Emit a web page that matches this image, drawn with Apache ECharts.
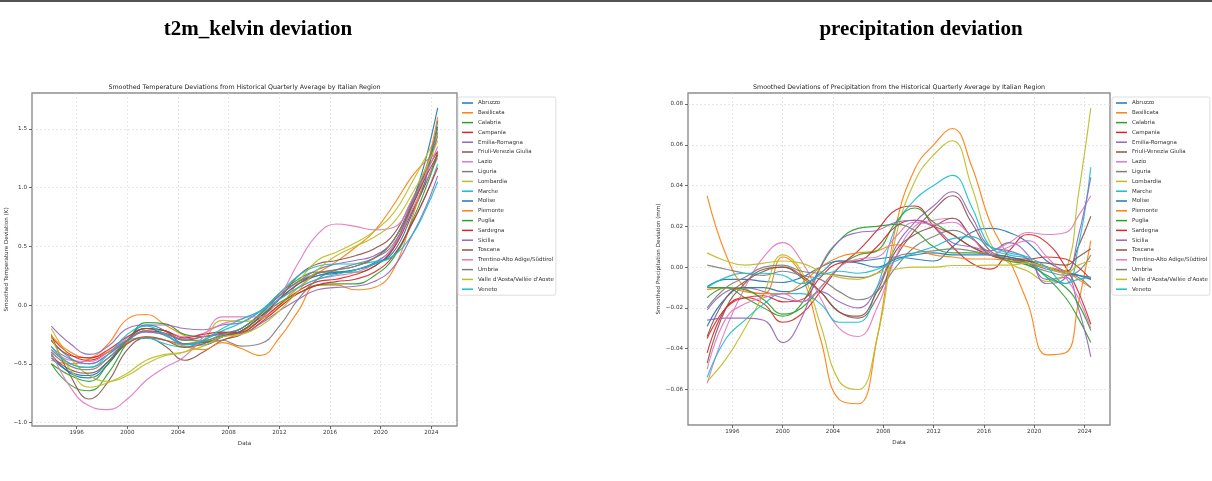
<!DOCTYPE html>
<html>
<head>
<meta charset="utf-8">
<script src="https://cdn.jsdelivr.net/npm/echarts@6/dist/echarts.min.js"></script>
<style>
html,body{margin:0;padding:0;background:#fff;}
#chart{width:1212px;height:481px;}
</style>
</head>
<body>
<div id="chart"></div>
<script>
// ---------- data ----------
const REGIONS = ['Abruzzo','Basilicata','Calabria','Campania','Emilia-Romagna','Friuli-Venezia Giulia','Lazio','Liguria','Lombardia','Marche','Molise','Piemonte','Puglia','Sardegna','Sicilia','Toscana','Trentino-Alto Adige/Südtirol','Umbria',"Valle d'Aosta/Vallée d'Aoste",'Veneto'];
const YEARS = [1994,1995.5,1997,1998.5,2000,2001.5,2003,2004.5,2006,2007.5,2009,2010.5,2012,2013.5,2015,2016.5,2018,2019.5,2021,2022.5,2023.5,2024.5];
const X_TICKS = [1996,2000,2004,2008,2012,2016,2020,2024];
const T_TICKS = [-1.0,-0.5,0.0,0.5,1.0,1.5];
const P_TICKS = [-0.06,-0.04,-0.02,0.00,0.02,0.04,0.06,0.08];

// temperature deviation (K)
const tAbruzzo   = [-0.42,-0.58,-0.62,-0.5,-0.3,-0.17,-0.22,-0.33,-0.34,-0.27,-0.2,-0.08,0.08,0.2,0.25,0.27,0.3,0.36,0.5,0.88,1.22,1.68];
const tBasilicata= [-0.47,-0.5,-0.46,-0.33,-0.12,-0.08,-0.17,-0.26,-0.32,-0.3,-0.23,-0.13,0.0,0.15,0.27,0.37,0.49,0.63,0.85,1.1,1.22,1.3];
const tCalabria  = [-0.5,-0.68,-0.73,-0.58,-0.32,-0.15,-0.16,-0.25,-0.27,-0.24,-0.2,-0.07,0.1,0.22,0.28,0.28,0.28,0.33,0.48,0.85,1.12,1.52];
const tCampania  = [-0.27,-0.42,-0.47,-0.4,-0.3,-0.22,-0.24,-0.3,-0.27,-0.24,-0.23,-0.13,0.0,0.12,0.2,0.22,0.26,0.33,0.48,0.8,1.02,1.3];
const tEmilia    = [-0.18,-0.33,-0.42,-0.35,-0.2,-0.17,-0.17,-0.2,-0.21,-0.17,-0.15,-0.05,0.08,0.2,0.3,0.35,0.38,0.42,0.55,0.88,1.1,1.44];
const tFriuli    = [-0.25,-0.6,-0.8,-0.65,-0.38,-0.28,-0.35,-0.47,-0.4,-0.3,-0.25,-0.12,0.05,0.25,0.35,0.38,0.42,0.48,0.6,0.9,1.12,1.31];
const tLazio     = [-0.38,-0.47,-0.48,-0.4,-0.28,-0.2,-0.22,-0.27,-0.24,-0.16,-0.12,-0.05,0.05,0.15,0.22,0.25,0.28,0.35,0.5,0.82,1.04,1.25];
const tLiguria   = [-0.38,-0.5,-0.53,-0.45,-0.32,-0.28,-0.3,-0.33,-0.31,-0.3,-0.35,-0.33,-0.18,0.05,0.22,0.3,0.35,0.4,0.52,0.85,1.1,1.47];
const tLombardia = [-0.2,-0.45,-0.6,-0.65,-0.6,-0.5,-0.43,-0.4,-0.3,-0.13,-0.14,-0.12,-0.02,0.2,0.38,0.45,0.53,0.63,0.78,1.05,1.25,1.45];
const tMarche    = [-0.3,-0.45,-0.5,-0.42,-0.3,-0.28,-0.33,-0.36,-0.3,-0.22,-0.15,-0.05,0.1,0.25,0.33,0.35,0.35,0.37,0.42,0.7,0.92,1.2];
const tMolise    = [-0.45,-0.57,-0.6,-0.48,-0.3,-0.2,-0.25,-0.33,-0.32,-0.27,-0.22,-0.1,0.05,0.18,0.25,0.28,0.3,0.35,0.45,0.78,1.05,1.57];
const tPiemonte  = [-0.26,-0.4,-0.45,-0.4,-0.32,-0.27,-0.3,-0.35,-0.38,-0.32,-0.37,-0.43,-0.28,-0.05,0.17,0.17,0.13,0.15,0.3,0.75,1.1,1.6];
const tPuglia    = [-0.5,-0.6,-0.65,-0.5,-0.3,-0.2,-0.22,-0.3,-0.3,-0.26,-0.22,-0.1,0.02,0.1,0.17,0.18,0.18,0.25,0.4,0.72,0.98,1.28];
const tSardegna  = [-0.3,-0.43,-0.45,-0.38,-0.27,-0.2,-0.22,-0.28,-0.25,-0.23,-0.24,-0.15,-0.02,0.1,0.17,0.2,0.22,0.28,0.42,0.7,0.92,1.17];
const tSicilia   = [-0.36,-0.46,-0.5,-0.42,-0.3,-0.23,-0.25,-0.29,-0.27,-0.25,-0.24,-0.16,-0.05,0.05,0.13,0.15,0.16,0.2,0.32,0.6,0.82,1.1];
const tToscana   = [-0.43,-0.55,-0.58,-0.48,-0.33,-0.27,-0.3,-0.36,-0.33,-0.27,-0.22,-0.1,0.05,0.18,0.27,0.3,0.33,0.4,0.55,0.85,1.08,1.28];
const tTrentino  = [-0.4,-0.7,-0.86,-0.89,-0.8,-0.64,-0.53,-0.44,-0.27,-0.1,-0.1,-0.1,0.07,0.36,0.6,0.69,0.67,0.64,0.66,0.9,1.1,1.35];
const tUmbria    = [-0.4,-0.52,-0.55,-0.45,-0.3,-0.22,-0.26,-0.33,-0.31,-0.25,-0.2,-0.08,0.08,0.2,0.27,0.3,0.33,0.4,0.55,0.88,1.15,1.5];
const tValle     = [-0.28,-0.55,-0.7,-0.66,-0.58,-0.47,-0.42,-0.4,-0.35,-0.27,-0.25,-0.18,-0.05,0.12,0.3,0.42,0.5,0.58,0.7,0.95,1.15,1.4];
const tVeneto    = [-0.35,-0.5,-0.53,-0.42,-0.25,-0.18,-0.25,-0.34,-0.3,-0.2,-0.12,-0.05,0.05,0.15,0.22,0.26,0.3,0.35,0.42,0.6,0.8,1.05];

// precipitation deviation (mm)
const pAbruzzo   = [-0.0095,-0.006,-0.006,-0.007,-0.0075,-0.005,0.0,0.003,0.003,0.004,0.005,0.004,0.003,0.01,0.017,0.019,0.017,0.012,0.003,-0.002,-0.004,-0.006];
const pBasilicata= [0.035,0.006,-0.01,-0.013,0.005,-0.004,-0.035,-0.065,-0.067,-0.035,0.02,0.048,0.06,0.068,0.05,0.022,0.004,-0.018,-0.043,-0.042,-0.018,0.013];
const pCalabria  = [-0.015,-0.01,-0.015,-0.02,-0.024,-0.018,0.0,0.013,0.019,0.02,0.021,0.018,0.01,0.007,0.007,0.006,0.004,0.002,-0.005,-0.015,-0.025,-0.037];
const pCampania  = [-0.042,-0.02,-0.015,-0.018,-0.027,-0.023,-0.012,0.0,0.008,0.018,0.028,0.03,0.02,0.01,0.002,-0.001,0.008,0.016,0.012,0.0,-0.012,-0.028];
const pEmilia    = [-0.021,-0.012,-0.01,-0.012,-0.015,-0.017,-0.012,-0.017,-0.02,-0.01,0.01,0.022,0.03,0.037,0.025,0.01,0.008,0.004,-0.006,-0.005,-0.02,-0.044];
const pFriuli    = [-0.047,-0.02,-0.008,-0.001,0.0,-0.005,-0.012,-0.022,-0.025,-0.015,0.005,0.018,0.028,0.035,0.022,0.008,0.005,0.003,0.0,-0.002,0.01,0.025];
const pLazio     = [-0.057,-0.03,-0.01,0.005,0.012,0.003,-0.015,-0.03,-0.034,-0.02,0.005,0.02,0.023,0.024,0.015,0.008,0.012,0.017,0.016,0.017,0.025,0.035];
const pLiguria   = [0.001,-0.001,-0.003,-0.004,-0.002,-0.004,-0.006,-0.012,-0.016,-0.012,0.0,0.01,0.015,0.018,0.014,0.007,0.004,0.001,-0.002,-0.004,-0.002,0.006];
const pLombardia = [-0.056,-0.045,-0.03,-0.013,0.006,-0.002,-0.028,-0.056,-0.06,-0.035,0.015,0.042,0.055,0.062,0.04,0.012,0.002,-0.002,-0.007,-0.002,0.035,0.078];
const pMarche    = [-0.054,-0.035,-0.026,-0.018,-0.013,-0.013,-0.018,-0.027,-0.027,-0.01,0.02,0.033,0.04,0.045,0.03,0.01,0.006,0.004,-0.005,-0.008,0.01,0.049];
const pMolise    = [-0.029,-0.015,-0.01,-0.01,-0.012,-0.01,-0.003,0.003,0.002,0.0,0.004,0.006,0.007,0.006,0.006,0.006,0.005,0.003,0.0,-0.003,-0.004,-0.005];
const pPiemonte  = [-0.011,-0.01,-0.012,-0.013,-0.013,-0.008,0.0,0.005,0.007,0.008,0.011,0.009,0.006,0.005,0.004,0.004,0.003,0.002,0.0,-0.002,-0.006,-0.01];
const pPuglia    = [-0.01,-0.01,-0.011,-0.016,-0.023,-0.02,-0.01,0.0,0.006,0.008,0.022,0.029,0.022,0.016,0.01,0.006,0.003,0.001,-0.004,-0.01,-0.018,-0.031];
const pSardegna  = [-0.035,-0.02,-0.015,-0.014,-0.017,-0.016,-0.005,0.002,0.003,0.01,0.02,0.023,0.02,0.016,0.01,0.006,0.004,0.004,0.005,0.004,0.0,-0.006];
const pSicilia   = [-0.026,-0.025,-0.025,-0.026,-0.037,-0.025,0.0,0.013,0.017,0.018,0.022,0.023,0.02,0.012,0.01,0.008,0.012,0.006,-0.008,-0.005,0.015,0.044];
const pToscana   = [-0.034,-0.015,-0.007,-0.002,0.0,-0.004,-0.012,-0.022,-0.024,-0.012,0.008,0.016,0.02,0.024,0.015,0.006,0.004,0.003,0.002,0.001,0.005,0.009];
const pTrentino  = [-0.05,-0.025,-0.018,-0.015,-0.013,-0.017,-0.01,0.0,0.004,0.005,0.015,0.022,0.021,0.022,0.015,0.006,0.01,0.013,0.005,-0.005,-0.015,-0.03];
const pUmbria    = [-0.02,-0.01,-0.005,0.0,0.001,-0.002,-0.003,-0.004,-0.005,-0.003,0.005,0.007,0.008,0.009,0.008,0.006,0.004,0.002,-0.001,-0.003,-0.005,-0.01];
const pValle     = [0.007,0.003,0.001,0.002,0.003,0.002,-0.002,-0.005,-0.006,-0.003,-0.001,0.0,0.0,0.0008,0.0008,0.001,0.001,0.002,0.0,-0.003,0.001,0.003];
const pVeneto    = [-0.01,-0.005,-0.003,-0.003,-0.004,-0.008,-0.004,-0.002,-0.003,-0.001,0.003,0.007,0.01,0.014,0.015,0.01,0.007,0.005,0.0,-0.008,-0.006,-0.005];

const tempData = [tAbruzzo,tBasilicata,tCalabria,tCampania,tEmilia,tFriuli,tLazio,tLiguria,tLombardia,tMarche,tMolise,tPiemonte,tPuglia,tSardegna,tSicilia,tToscana,tTrentino,tUmbria,tValle,tVeneto];
const precData = [pAbruzzo,pBasilicata,pCalabria,pCampania,pEmilia,pFriuli,pLazio,pLiguria,pLombardia,pMarche,pMolise,pPiemonte,pPuglia,pSardegna,pSicilia,pToscana,pTrentino,pUmbria,pValle,pVeneto];

// ---------- style ----------
const COLORS = ['#1f77b4','#ff7f0e','#2ca02c','#d62728','#9467bd','#8c564b','#e377c2','#7f7f7f','#bcbd22','#17becf'];
const FONT = 'DejaVu Sans';
const TXT = '#333';
const minus = s => s.replace('-', '\u2212');

function pairs(vals){ return YEARS.map((y,i)=>[y, vals[i]]); }

function xAxisCfg(grid){
  return {
    type:'value', gridIndex:grid, min:1992.475, max:2026.025,
    axisLine:{show:false, onZero:false},
    axisTick:{show:true, length:3, customValues:X_TICKS, lineStyle:{color:'#444', width:0.8}},
    axisLabel:{customValues:X_TICKS, fontSize:5.6, color:TXT, fontFamily:FONT, margin:3.5, formatter:v=>String(v)},
    splitLine:{show:true, customValues:X_TICKS, lineStyle:{color:'#dcdcdc', width:0.7, type:[2,2]}},
    name:'Data', nameLocation:'middle', nameGap:12,
    nameTextStyle:{fontSize:5.6, color:TXT, fontFamily:FONT}
  };
}
function yAxisCfg(grid, min, max, ticks, dec, name, gap){
  return {
    type:'value', gridIndex:grid, min:min, max:max,
    axisLine:{show:false, onZero:false},
    axisTick:{show:true, length:3, customValues:ticks, lineStyle:{color:'#444', width:0.8}},
    axisLabel:{customValues:ticks, fontSize:5.6, color:TXT, fontFamily:FONT, margin:5, formatter:v=>minus(v.toFixed(dec))},
    splitLine:{show:true, customValues:ticks, lineStyle:{color:'#dcdcdc', width:0.7, type:[2,2]}},
    name:name, nameLocation:'middle', nameGap:gap, nameRotate:90,
    nameTextStyle:{fontSize:5.6, color:TXT, fontFamily:FONT}
  };
}
function legendCfg(left){
  return {
    orient:'vertical', left:left, top:97, data:REGIONS,
    icon:'rect', itemWidth:11, itemHeight:1.5, itemGap:3.8,
    textStyle:{fontSize:5.5, color:TXT, fontFamily:FONT, lineHeight:6},
    padding:[3,2,3,4], borderColor:'#d6d6d6', borderWidth:0.8, borderRadius:2,
    backgroundColor:'#fff', selectedMode:false
  };
}

const series = [];
REGIONS.forEach((name,i)=>{
  const c = COLORS[i%10];
  series.push({name, type:'line', xAxisIndex:0, yAxisIndex:0, data:pairs(tempData[i]),
    smooth:0.45, symbol:'none', silent:true, lineStyle:{width:1.15, color:c, opacity:0.92}, itemStyle:{color:c}});
});
REGIONS.forEach((name,i)=>{
  const c = COLORS[i%10];
  series.push({name, type:'line', xAxisIndex:1, yAxisIndex:1, data:pairs(precData[i]),
    smooth:0.45, symbol:'none', silent:true, lineStyle:{width:1.15, color:c, opacity:0.92}, itemStyle:{color:c}});
});

const option = {
  animation:false,
  backgroundColor:'#fff',
  grid:[
    {left:32, top:93, width:425, height:333, show:true, borderColor:'#8e8e8e', borderWidth:1.4, backgroundColor:'transparent', outerBoundsMode:'none'},
    {left:688, top:93, width:422, height:332, show:true, borderColor:'#8e8e8e', borderWidth:1.4, backgroundColor:'transparent', outerBoundsMode:'none'}
  ],
  xAxis:[xAxisCfg(0), xAxisCfg(1)],
  yAxis:[
    yAxisCfg(0, -1.03, 1.806, T_TICKS, 1, 'Smoothed Temperature Deviation (K)', 17),
    yAxisCfg(1, -0.0774, 0.0854, P_TICKS, 2, 'Smoothed Precipitation Deviation (mm)', 22)
  ],
  legend:[legendCfg(458), legendCfg(1112)],
  series:series,
  graphic:[
    {type:'rect', shape:{x:0, y:0, width:1212, height:2}, style:{fill:'#555'}, silent:true},
    {type:'text', x:258, y:30, silent:true, style:{text:'t2m_kelvin deviation', fontFamily:'Liberation Serif', fontWeight:'bold', fontSize:21, fill:'#000', align:'center', verticalAlign:'middle'}},
    {type:'text', x:921, y:30, silent:true, style:{text:'precipitation deviation', fontFamily:'Liberation Serif', fontWeight:'bold', fontSize:21, fill:'#000', align:'center', verticalAlign:'middle'}},
    {type:'text', x:244.5, y:87, silent:true, style:{text:'Smoothed Temperature Deviations from Historical Quarterly Average by Italian Region', fontFamily:FONT, fontSize:6.3, fill:'#222', align:'center', verticalAlign:'middle'}},
    {type:'text', x:899, y:87, silent:true, style:{text:'Smoothed Deviations of Precipitation from the Historical Quarterly Average by Italian Region', fontFamily:FONT, fontSize:6.3, fill:'#222', align:'center', verticalAlign:'middle'}}
  ]
};

const chart = echarts.init(document.getElementById('chart'), null, {renderer:'canvas'});
chart.setOption(option);
</script>
</body>
</html>
